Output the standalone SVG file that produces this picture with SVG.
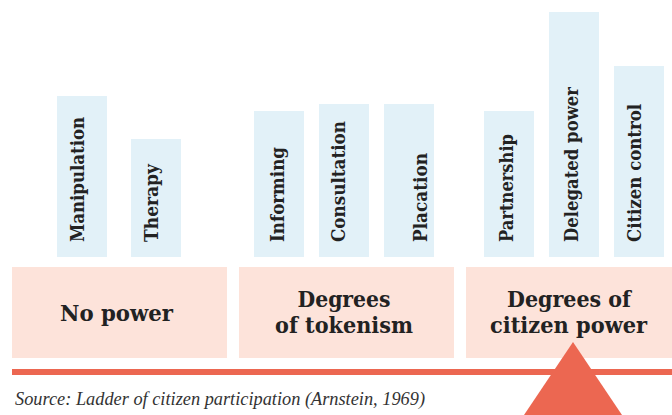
<svg xmlns="http://www.w3.org/2000/svg" width="672" height="415" viewBox="0 0 672 415">
<style>
.bar{fill:#e2f1f8}
.box{fill:#fde3da}
.red{fill:#ec6751}
.vl{font-family:"DejaVu Serif",serif;font-weight:bold;font-size:18px;fill:#222}
.bl{font-family:"DejaVu Serif",serif;font-weight:bold;font-size:23px;fill:#222;text-anchor:middle}
.src{font-family:"Liberation Serif",serif;font-style:italic;font-size:18px;fill:#333}
</style>
<rect width="672" height="415" fill="#fff"/>
<g id="rungs">
<g id="manipulation"><rect class="bar" x="57" y="96" width="50" height="161"/><text class="vl" transform="translate(84,242) rotate(-90)" textLength="125" lengthAdjust="spacingAndGlyphs">Manipulation</text></g>
<g id="therapy"><rect class="bar" x="131" y="139" width="50" height="118"/><text class="vl" transform="translate(158,242) rotate(-90)" textLength="78" lengthAdjust="spacingAndGlyphs">Therapy</text></g>
<g id="informing"><rect class="bar" x="254" y="111" width="50" height="146"/><text class="vl" transform="translate(284,242) rotate(-90)" textLength="95" lengthAdjust="spacingAndGlyphs">Informing</text></g>
<g id="consultation"><rect class="bar" x="319" y="104" width="50" height="153"/><text class="vl" transform="translate(345,242) rotate(-90)" textLength="121" lengthAdjust="spacingAndGlyphs">Consultation</text></g>
<g id="placation"><rect class="bar" x="384" y="104" width="50" height="153"/><text class="vl" transform="translate(427,242) rotate(-90)" textLength="89" lengthAdjust="spacingAndGlyphs">Placation</text></g>
<g id="partnership"><rect class="bar" x="484" y="111" width="50" height="146"/><text class="vl" transform="translate(513,242) rotate(-90)" textLength="108" lengthAdjust="spacingAndGlyphs">Partnership</text></g>
<g id="delegated-power"><rect class="bar" x="549" y="12" width="50" height="245"/><text class="vl" transform="translate(578,242) rotate(-90)" textLength="155" lengthAdjust="spacingAndGlyphs">Delegated power</text></g>
<g id="citizen-control"><rect class="bar" x="614" y="66" width="50" height="191"/><text class="vl" transform="translate(641,242) rotate(-90)" textLength="138" lengthAdjust="spacingAndGlyphs">Citizen control</text></g>
</g>
<g id="no-power"><rect class="box" x="12" y="267" width="215" height="91"/><text class="bl" x="116.5" y="321" textLength="113" lengthAdjust="spacingAndGlyphs">No power</text></g>
<g id="tokenism"><rect class="box" x="239" y="267" width="215" height="91"/><text class="bl" x="344" y="307" textLength="93" lengthAdjust="spacingAndGlyphs">Degrees</text><text class="bl" x="344" y="333" textLength="138" lengthAdjust="spacingAndGlyphs">of tokenism</text></g>
<g id="citizen-power"><rect class="box" x="466" y="267" width="214" height="91"/><text class="bl" x="569" y="307" textLength="124" lengthAdjust="spacingAndGlyphs">Degrees of</text><text class="bl" x="568.5" y="333" textLength="157" lengthAdjust="spacingAndGlyphs">citizen power</text></g>
<g id="connectors">
<rect class="red" x="12" y="369" width="660" height="6"/>
<polygon class="red" points="573,342 524,415 622,415"/>
</g>
<text class="src" x="15" y="405" textLength="410" lengthAdjust="spacingAndGlyphs">Source: Ladder of citizen participation (Arnstein, 1969)</text>
</svg>
